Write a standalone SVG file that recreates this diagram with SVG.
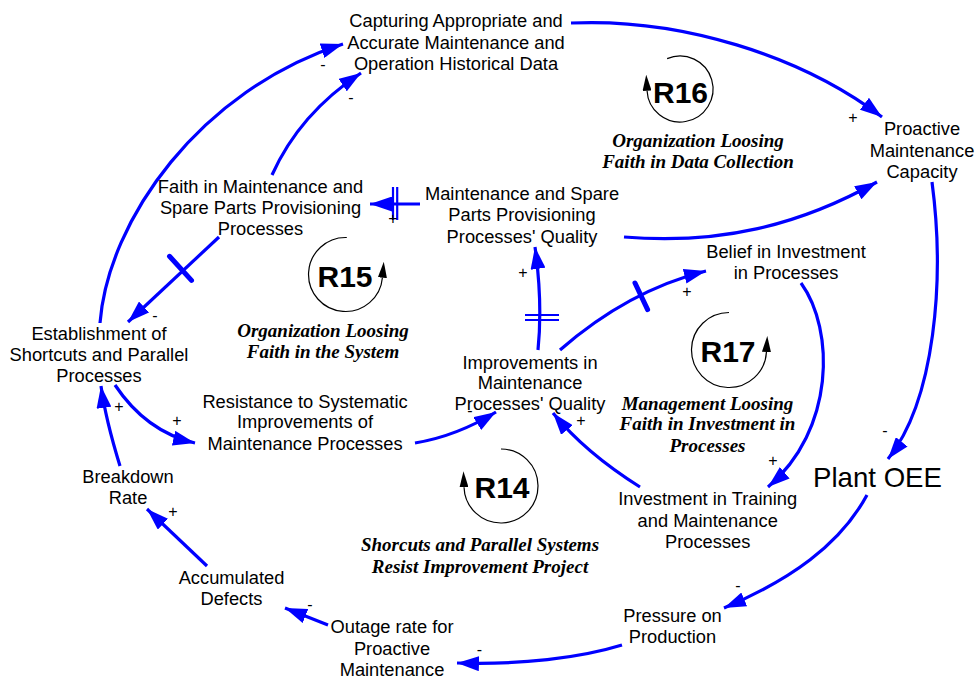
<svg xmlns="http://www.w3.org/2000/svg" width="976" height="679" viewBox="0 0 976 679">
  <style>
    .lbl { font-family: "Liberation Sans", Arial, sans-serif; font-size: 18.3px; fill: #000; text-anchor: middle; }
    .big { font-size: 27.6px; }
    .loopid { font-family: "Liberation Sans", Arial, sans-serif; font-weight: bold; font-size: 30px; fill: #000; text-anchor: middle; }
    .title { font-family: "Liberation Serif", "Times New Roman", serif; font-weight: bold; font-style: italic; font-size: 19px; fill: #000; text-anchor: middle; }
    .sign { font-family: "Liberation Sans", Arial, sans-serif; font-size: 16px; fill: #000; text-anchor: middle; }
    .link { fill: none; stroke: #0000ff; stroke-width: 3.2; marker-end: url(#ah); }
    .delay { stroke: #0000ff; stroke-width: 2.2; fill: none; }
    .bar { stroke: #0000ff; stroke-width: 5; stroke-linecap: round; fill: none; }
    .looparc { fill: none; stroke: #000; stroke-width: 1.2; marker-end: url(#la); }
  </style>
  <defs>
    <marker id="ah" markerUnits="userSpaceOnUse" viewBox="0 0 22 15" refX="22" refY="7.5" markerWidth="22" markerHeight="15" orient="auto">
      <path d="M0,0 L22,7.5 L0,15 z" fill="#0000ff"/>
    </marker>
    <marker id="la" markerUnits="userSpaceOnUse" viewBox="0 0 16 9" refX="0" refY="4.5" markerWidth="16" markerHeight="9" orient="auto">
      <path d="M0,0 L16,4.5 L0,9 z" fill="#000"/>
    </marker>
  </defs>

  <rect width="976" height="679" fill="#fff"/>

  <!-- causal links -->
  <g id="links">
    <path class="link" d="M100,323 C108,220 200,90 343,44"/>
    <path class="link" d="M272,175 C290,135 320,100 361,73"/>
    <path class="link" d="M571,23 C680,18 800,55 882,117"/>
    <path class="link" d="M624,237 C720,245 800,225 877,182"/>
    <path class="link" d="M420,204 L370,204"/>
    <path class="link" d="M219,237 L128,322"/>
    <path class="link" d="M538,350 C541,320 541,290 535,247"/>
    <path class="link" d="M560,350 C600,315 650,285 706,271"/>
    <path class="link" d="M801,283 C835,330 835,430 768,487"/>
    <path class="link" d="M932,182 C945,280 935,400 888,459"/>
    <path class="link" d="M867,495 C840,545 790,580 724,608"/>
    <path class="link" d="M622,645 C580,658 520,665 457,663"/>
    <path class="link" d="M328,625 L285,608"/>
    <path class="link" d="M207,566 L147,509"/>
    <path class="link" d="M120,466 C112,440 105,415 101,386"/>
    <path class="link" d="M115,385 C135,415 160,435 195,443"/>
    <path class="link" d="M415,443 C445,438 470,428 496,412"/>
    <path class="link" d="M640,487 C605,465 575,440 553,413"/>

    <!-- delay marks -->
    <line class="delay" x1="393" y1="187" x2="393" y2="220"/>
    <line class="delay" x1="397.2" y1="187" x2="397.2" y2="220"/>
    <line class="bar" x1="169.5" y1="256.3" x2="191.5" y2="280.4"/>
    <line class="delay" x1="525" y1="315" x2="559" y2="315"/>
    <line class="delay" x1="525" y1="320" x2="559" y2="320"/>
    <line class="bar" x1="635" y1="283" x2="647.6" y2="309.6"/>

    <!-- polarities -->
    <text class="sign" x="323" y="69.5">-</text>
    <text class="sign" x="351" y="102.5">-</text>
    <text class="sign" x="853" y="122.5">+</text>
    <text class="sign" x="393" y="224">+</text>
    <text class="sign" x="155" y="321">-</text>
    <text class="sign" x="523" y="278">+</text>
    <text class="sign" x="687" y="297">+</text>
    <text class="sign" x="773" y="465.5">+</text>
    <text class="sign" x="885" y="436">-</text>
    <text class="sign" x="738" y="591">-</text>
    <text class="sign" x="479.5" y="655">-</text>
    <text class="sign" x="310" y="609.5">-</text>
    <text class="sign" x="173" y="517">+</text>
    <text class="sign" x="119" y="412">+</text>
    <text class="sign" x="177" y="426">+</text>
    <text class="sign" x="470" y="416">-</text>
    <text class="sign" x="581" y="426">+</text>
  </g>

  <!-- variables -->
  <g id="capturing-data">
    <text class="lbl" x="456" y="27">Capturing Appropriate and</text>
    <text class="lbl" x="456" y="48.5">Accurate Maintenance and</text>
    <text class="lbl" x="456" y="70">Operation Historical Data</text>
  </g>
  <g id="proactive-capacity">
    <text class="lbl" x="922" y="135">Proactive</text>
    <text class="lbl" x="922" y="156.5">Maintenance</text>
    <text class="lbl" x="922" y="178">Capacity</text>
  </g>
  <g id="faith-processes">
    <text class="lbl" x="260.5" y="193">Faith in Maintenance and</text>
    <text class="lbl" x="260.5" y="214">Spare Parts Provisioning</text>
    <text class="lbl" x="260.5" y="235">Processes</text>
  </g>
  <g id="processes-quality">
    <text class="lbl" x="522" y="200">Maintenance and Spare</text>
    <text class="lbl" x="522" y="221">Parts Provisioning</text>
    <text class="lbl" x="522" y="243">Processes' Quality</text>
  </g>
  <g id="belief-investment">
    <text class="lbl" x="786" y="258">Belief in Investment</text>
    <text class="lbl" x="786" y="278.5">in Processes</text>
  </g>
  <g id="shortcuts">
    <text class="lbl" x="99" y="340">Establishment of</text>
    <text class="lbl" x="99" y="360.5">Shortcuts and Parallel</text>
    <text class="lbl" x="99" y="381.5">Processes</text>
  </g>
  <g id="improvements">
    <text class="lbl" x="530" y="368.5">Improvements in</text>
    <text class="lbl" x="530" y="389">Maintenance</text>
    <text class="lbl" x="530" y="410">Processes' Quality</text>
  </g>
  <g id="resistance">
    <text class="lbl" x="305" y="407.5">Resistance to Systematic</text>
    <text class="lbl" x="305" y="428">Improvements of</text>
    <text class="lbl" x="305" y="450">Maintenance Processes</text>
  </g>
  <g id="plant-oee">
    <text class="lbl big" x="877.5" y="487">Plant OEE</text>
  </g>
  <g id="breakdown-rate">
    <text class="lbl" x="128" y="482.5">Breakdown</text>
    <text class="lbl" x="128" y="503.5">Rate</text>
  </g>
  <g id="accumulated-defects">
    <text class="lbl" x="231.5" y="583.5">Accumulated</text>
    <text class="lbl" x="231.5" y="605">Defects</text>
  </g>
  <g id="outage-rate">
    <text class="lbl" x="392" y="632.5">Outage rate for</text>
    <text class="lbl" x="392" y="655">Proactive</text>
    <text class="lbl" x="392" y="676">Maintenance</text>
  </g>
  <g id="investment-training">
    <text class="lbl" x="707.7" y="505">Investment in Training</text>
    <text class="lbl" x="707.7" y="526.5">and Maintenance</text>
    <text class="lbl" x="707.7" y="548">Processes</text>
  </g>
  <g id="pressure-production">
    <text class="lbl" x="672.5" y="621.5">Pressure on</text>
    <text class="lbl" x="672.5" y="643">Production</text>
  </g>

  <!-- reinforcing loops -->
  <g id="loop-r16">
    <path class="looparc" d="M667.1,58.6 A33,33 0 1 1 647.05,90.7"/>
    <text class="loopid" x="680.5" y="103">R16</text>
    <text class="title" x="698" y="146.5">Organization Loosing</text>
    <text class="title" x="698" y="168">Faith in Data Collection</text>
  </g>
  <g id="loop-r15">
    <path class="looparc" d="M346.8,237.5 A37,37 0 1 0 382.4,277.7"/>
    <text class="loopid" x="345" y="286.5">R15</text>
    <text class="title" x="323" y="336.5">Organization Loosing</text>
    <text class="title" x="323" y="357.5">Faith in the System</text>
  </g>
  <g id="loop-r17">
    <path class="looparc" d="M729,312.5 A37.5,37.5 0 1 0 766.45,351.96"/>
    <text class="loopid" x="728" y="361.5">R17</text>
    <text class="title" x="707.5" y="409.5">Management Loosing</text>
    <text class="title" x="707.5" y="430">Faith in Investment in</text>
    <text class="title" x="707.5" y="451.5">Processes</text>
  </g>
  <g id="loop-r14">
    <path class="looparc" d="M501,449 A37,37 0 1 1 464.02,487.3"/>
    <text class="loopid" x="502" y="497.5">R14</text>
    <text class="title" x="480" y="550.5">Shorcuts and Parallel Systems</text>
    <text class="title" x="480" y="573">Resist Improvement Project</text>
  </g>
</svg>
